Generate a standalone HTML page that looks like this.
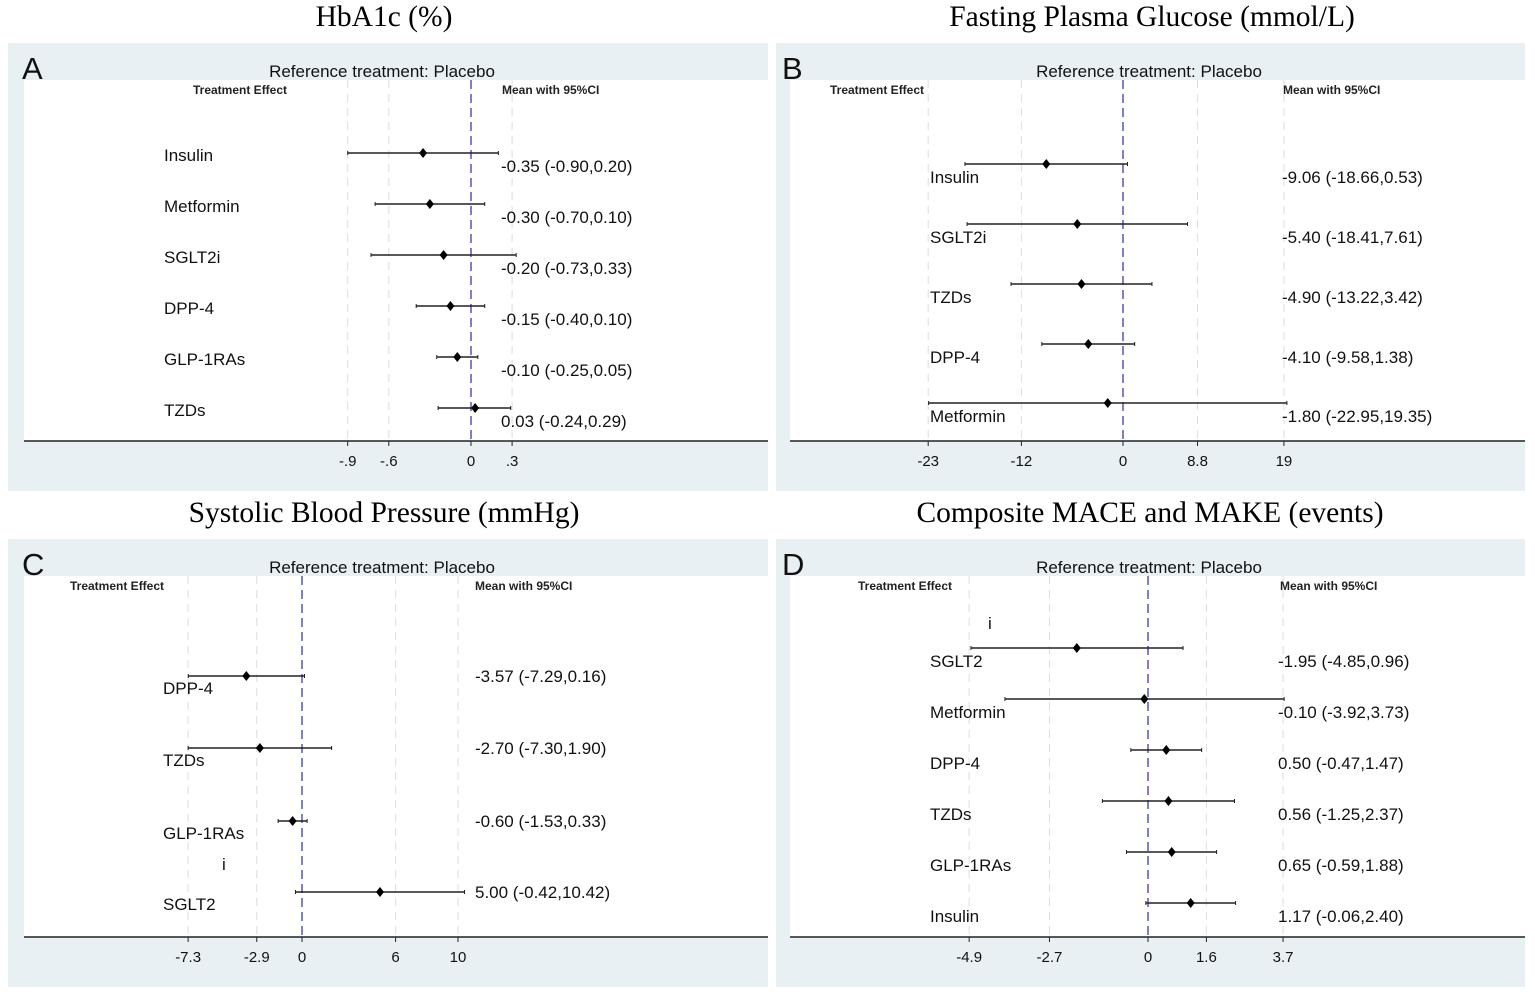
<!DOCTYPE html>
<html><head><meta charset="utf-8">
<style>
body{margin:0;background:#fff;width:1535px;height:1004px;overflow:hidden}
svg{display:block}
text{font-family:"Liberation Sans",sans-serif}
.ttl{font-family:"Liberation Serif",serif;font-size:29.5px}
</style></head><body>
<svg id="chart" width="1535" height="1004"></svg>
<script>
// Panel A
const catsA=["Insulin","Metformin","SGLT2i","DPP-4","GLP-1RAs","TZDs"];
const meanA=[-0.35,-0.30,-0.20,-0.15,-0.10,0.03];
const lowA=[-0.90,-0.70,-0.73,-0.40,-0.25,-0.24];
const highA=[0.20,0.10,0.33,0.10,0.05,0.29];
const ticksA=[-0.9,-0.6,0,0.3];
const tickLabA=["-.9","-.6","0",".3"];
// Panel B
const catsB=["Insulin","SGLT2i","TZDs","DPP-4","Metformin"];
const meanB=[-9.06,-5.40,-4.90,-4.10,-1.80];
const lowB=[-18.66,-18.41,-13.22,-9.58,-22.95];
const highB=[0.53,7.61,3.42,1.38,19.35];
const ticksB=[-23,-12,0,8.8,19];
const tickLabB=["-23","-12","0","8.8","19"];
// Panel C
const catsC=["DPP-4","TZDs","GLP-1RAs","SGLT2"];
const meanC=[-3.57,-2.70,-0.60,5.00];
const lowC=[-7.29,-7.30,-1.53,-0.42];
const highC=[0.16,1.90,0.33,10.42];
const ticksC=[-7.3,-2.9,0,6,10];
const tickLabC=["-7.3","-2.9","0","6","10"];
// Panel D
const catsD=["SGLT2","Metformin","DPP-4","TZDs","GLP-1RAs","Insulin"];
const meanD=[-1.95,-0.10,0.50,0.56,0.65,1.17];
const lowD=[-4.85,-3.92,-0.47,-1.25,-0.59,-0.06];
const highD=[0.96,3.73,1.47,2.37,1.88,2.40];
const ticksD=[-4.9,-2.7,0,1.6,3.7];
const tickLabD=["-4.9","-2.7","0","1.6","3.7"];

const NS="http://www.w3.org/2000/svg";
const svg=document.getElementById('chart');
function el(tag,attrs,parent,txt){const e=document.createElementNS(NS,tag);for(const k in attrs)e.setAttribute(k,attrs[k]);if(txt!==undefined)e.textContent=txt;(parent||svg).appendChild(e);return e;}
function fmt(v){return v.toFixed(2);}

const panels=[
 {id:'a',letter:'A',title:'HbA1c (%)',bx:8,by:43,bw:760,cats:catsA,mean:meanA,low:lowA,high:highA,ticks:ticksA,tl:tickLabA,zero:471,scale:137,rows:[153,204,255,306,357,408],labX:164,labDy:2,valX:501,valDy:13,teX:193,mX:502,refX:382,titleX:384,plotX:24},
 {id:'b',letter:'B',title:'Fasting Plasma Glucose (mmol/L)',bx:776,by:43,bw:749,cats:catsB,mean:meanB,low:lowB,high:highB,ticks:ticksB,tl:tickLabB,zero:1123,scale:8.47,rows:[164,224,284,344,403],labX:930,labDy:13,valX:1282,valDy:13,teX:830,mX:1283,refX:1149,titleX:1152,plotX:790},
 {id:'c',letter:'C',title:'Systolic Blood Pressure (mmHg)',bx:8,by:539,bw:760,cats:catsC,mean:meanC,low:lowC,high:highC,ticks:ticksC,tl:tickLabC,zero:302,scale:15.6,rows:[676,748,821,892],labX:163,labDy:12,valX:475,valDy:0,teX:70,mX:475,refX:382,titleX:384,plotX:24,iMark:[222,868]},
 {id:'d',letter:'D',title:'Composite MACE and MAKE (events)',bx:776,by:539,bw:749,cats:catsD,mean:meanD,low:lowD,high:highD,ticks:ticksD,tl:tickLabD,zero:1148,scale:36.5,rows:[648,699,750,801,852,903],labX:930,labDy:13,valX:1278,valDy:13,teX:858,mX:1280,refX:1149,titleX:1150,plotX:790,iMark:[988,627]}
];

panels.forEach(p=>{
 const g=el('g',{});
 
 
 const x=v=>p.zero+v*p.scale;
 const t=el('text',{x:p.titleX,y:p.by-17,'text-anchor':'middle',class:'ttl'},g,p.title);
 
 
 const bg=el('rect',{x:p.bx,y:p.by,width:p.bw,height:448,fill:'#e9f0f3'},g);
 
 
 const pl=el('rect',{x:p.plotX,y:p.by+37,width:p.bx+p.bw-p.plotX,height:361,fill:'#fff'},g);
 
 
 const axY=p.by+398;
 p.ticks.forEach((v,i)=>{
  if(v!==0){const gl=el('line',{x1:x(v),x2:x(v),y1:p.by+37,y2:axY,stroke:'#ddd','stroke-dasharray':'8,6','stroke-width':1},g);
  
  }
  const tk=el('line',{x1:x(v),x2:x(v),y1:axY,y2:axY+5,stroke:'#222'},g);
  
  
  const tx=el('text',{x:x(v),y:axY+25,'text-anchor':'middle','font-size':15,fill:'#111'},g,p.tl[i]);
  
  
 });
 const zl=el('line',{x1:x(0),x2:x(0),y1:p.by+37,y2:axY,stroke:'#3b3ba8','stroke-dasharray':'9,5','stroke-width':1.3},g);
 
 
 const ax=el('line',{x1:p.plotX,x2:p.bx+p.bw,y1:axY,y2:axY,stroke:'#222','stroke-width':1.5},g);
 
 
 const lt=el('text',{x:p.bx+(p.id==='a'||p.id==='c'?14:6),y:p.by+36,'font-size':31,fill:'#111'},g,p.letter);
 
 
 const rf=el('text',{x:p.refX,y:p.by+34,'text-anchor':'middle','font-size':17,fill:'#111'},g,'Reference treatment: Placebo');
 
 
 const te=el('text',{x:p.teX,y:p.by+51,'font-size':12,'font-weight':'bold',fill:'#222'},g,'Treatment Effect');
 
 
 const mh=el('text',{x:p.mX,y:p.by+51,'font-size':12,'font-weight':'bold',fill:'#222'},g,'Mean with 95%CI');
 
 
 if(p.iMark){const im=el('text',{x:p.iMark[0],y:p.iMark[1]+2,'font-size':17,fill:'#111'},g,'i');
  
  }
 p.cats.forEach((c,i)=>{
  const y=p.rows[i];
  const lb=el('text',{x:p.labX,y:y+p.labDy+6,'font-size':17,fill:'#111'},g,c);
  
  
  const ci=el('line',{x1:x(p.low[i]),x2:x(p.high[i]),y1:y,y2:y,stroke:'#222','stroke-width':1.5},g);
  
  
  [p.low[i],p.high[i]].forEach(v=>{const cp=el('line',{x1:x(v),x2:x(v),y1:y-2,y2:y+2,stroke:'#222','stroke-width':1},g);
   
   });
  const mx=x(p.mean[i]);
  const d=el('polygon',{points:`${mx},${y-5} ${mx+4},${y} ${mx},${y+5} ${mx-4},${y}`,fill:'#000'},g);
  
  
  const vt=el('text',{x:p.valX,y:y+p.valDy+6,'font-size':17,fill:'#111'},g,`${fmt(p.mean[i])} (${fmt(p.low[i])},${fmt(p.high[i])})`);
  
  
 });
});
</script>
</body></html>
